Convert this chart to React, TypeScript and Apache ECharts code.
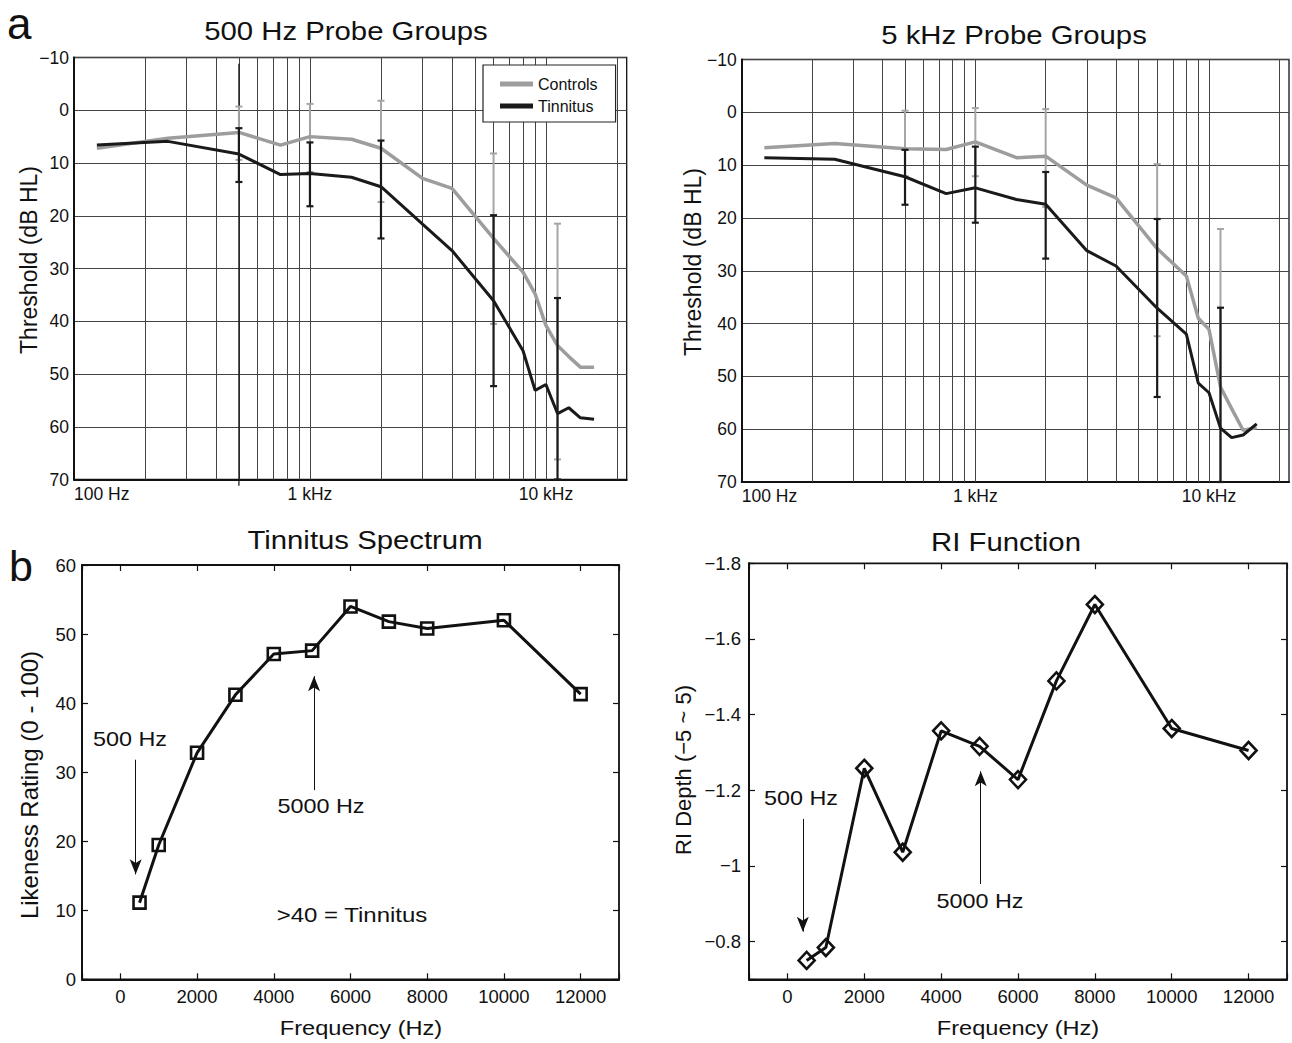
import React, { useEffect, useRef } from 'react';
import * as echarts from 'echarts';

const FONT = "'Liberation Sans', Arial, Helvetica, sans-serif";

// ---------- Panel a : audiograms ----------
const AUDIO_FREQS = [125, 250, 500, 750, 1000, 1500, 2000, 3000, 4000, 6000, 8000, 9000, 10000, 11200, 12500, 14000, 16000];
const P500_CONTROLS = [7.2, 5.3, 4.2, 6.6, 5.0, 5.5, 7.2, 12.9, 14.8, 24.3, 30.7, 34.8, 40.8, 44.6, 46.7, 48.7, 48.7];
const P500_TINNITUS = [6.6, 5.9, 8.3, 12.2, 12.0, 12.7, 14.5, 21.6, 26.6, 36.1, 45.6, 53.1, 52.0, 57.5, 56.4, 58.3, 58.6];
const P5K_CONTROLS = [6.7, 5.9, 6.9, 7.05, 5.6, 8.6, 8.3, 13.8, 16.2, 25.8, 31.0, 39.0, 41.1, 52.0, 56.1, 60.2, 59.7];
const P5K_TINNITUS = [8.6, 8.9, 12.2, 15.4, 14.3, 16.5, 17.4, 26.2, 29.1, 37.1, 42.0, 51.3, 53.1, 59.8, 61.6, 61.1, 59.0];

const ERR_FREQS = [500, 1000, 2000, 6000, 11200];
const P500_CONTROLS_LO = [-0.7, -1.2, -1.8, 8.2, 21.5];
const P500_CONTROLS_HI = [9.4, 11.7, 17.4, 40.5, 66.2];
const P500_TINNITUS_LO = [3.4, 6.1, 5.75, 19.9, 35.6];
const P500_TINNITUS_HI = [13.6, 18.2, 24.3, 52.3, 70];
const P5K_CONTROLS_LO = [-0.3, -0.8, -0.6, 9.8, 22.1];
const P5K_CONTROLS_HI = [12.1, 12.1, 17.9, 42.4, 70];
const P5K_TINNITUS_LO = [7.1, 6.5, 11.3, 20.2, 37.0];
const P5K_TINNITUS_HI = [17.5, 20.9, 27.7, 53.9, 70];

const GRID_FREQS = [200, 300, 400, 500, 600, 700, 800, 900, 1000, 2000, 3000, 4000, 5000, 6000, 7000, 8000, 9000, 10000, 20000];
const PROBE_MARK = [500, -8.8, 71.2];
const LOG_TICK_LABELS: Record<number, string> = { 100: '100 Hz', 1000: '1 kHz', 10000: '10 kHz' };

// ---------- Panel b ----------
const SPEC_FREQS = [500, 1000, 2000, 3000, 4000, 5000, 6000, 7000, 8000, 10000, 12000];
const LIKENESS = [11.1, 19.45, 32.8, 41.2, 47.1, 47.6, 54.0, 51.8, 50.8, 52.0, 41.3];
const RI_DEPTH = [-0.75, -0.784, -1.258, -1.036, -1.357, -1.316, -1.228, -1.489, -1.691, -1.363, -1.305];
const SPEC_ARROWS = [[400, 31.8, 15.2], [5050, 27.4, 43.9]]; // x, tail, head
const RI_ARROWS = [[400, -1.124, -0.826], [5030, -0.952, -1.25]];

const GRAY = '#9d9d9d';
const DARK = '#1a1a1a';
const MINUS = '\u2212';

const zip = (xs: number[], ys: number[]) => xs.map((x, i) => [x, ys[i]]);
const errData = (lo: number[], hi: number[]) => ERR_FREQS.map((f, i) => [f, lo[i], hi[i]]);

const vRender = (color: string, width: number, cap: number) => (params: any, api: any) => {
  const x = api.value(0);
  const a = api.coord([x, api.value(1)]);
  const b = api.coord([x, api.value(2)]);
  const style = { stroke: color, lineWidth: width };
  const children: any[] = [{ type: 'line', shape: { x1: a[0], y1: a[1], x2: b[0], y2: b[1] }, style }];
  if (cap > 0) {
    children.push({ type: 'line', shape: { x1: a[0] - cap, y1: a[1], x2: a[0] + cap, y2: a[1] }, style });
    children.push({ type: 'line', shape: { x1: b[0] - cap, y1: b[1], x2: b[0] + cap, y2: b[1] }, style });
  }
  return { type: 'group', children };
};

const logX = (g: number) => ({
  type: 'log', logBase: 10, gridIndex: g, min: 100, max: 22000,
  axisLine: { show: true, onZero: false, lineStyle: { color: '#111', width: 2 } },
  axisTick: { show: false },
  splitLine: { show: false },
  axisLabel: {
    fontSize: 17.5, color: '#111', fontFamily: FONT, margin: 5, alignMinLabel: 'left',
    formatter: (v: number) => LOG_TICK_LABELS[Math.round(v)] || '',
  },
});

const dbY = (g: number) => ({
  type: 'value', gridIndex: g, inverse: true, min: -10, max: 70, interval: 10,
  axisLine: { show: true, onZero: false, lineStyle: { color: '#111', width: 2 } },
  axisTick: { show: false },
  splitLine: { show: true, lineStyle: { color: '#444', width: 1 } },
  axisLabel: {
    fontSize: 17.5, color: '#111', fontFamily: FONT, margin: 5,
    formatter: (v: number) => (v < 0 ? MINUS + Math.abs(v) : String(v)),
  },
});

const linX = (g: number, pos: string) => ({
  type: 'value', gridIndex: g, position: pos, min: -1000, max: 13000,
  minInterval: 2000, maxInterval: 2000, splitNumber: 7,
  axisLine: { show: pos === 'bottom', onZero: false, lineStyle: { color: '#111', width: 2 } },
  axisTick: { show: true, inside: true, length: 6, lineStyle: { color: '#111', width: 1.2 } },
  splitLine: { show: false },
  axisLabel: {
    show: pos === 'bottom', fontSize: 18.5, color: '#111', fontFamily: FONT, margin: 8,
    formatter: (v: number) => (v < 0 || v > 12000 ? '' : String(v)),
  },
});

const likeY = (g: number, pos: string) => ({
  type: 'value', gridIndex: g, position: pos, min: 0, max: 60, interval: 10,
  axisLine: { show: pos === 'left', onZero: false, lineStyle: { color: '#111', width: 2 } },
  axisTick: { show: true, inside: true, length: 6, lineStyle: { color: '#111', width: 1.2 } },
  splitLine: { show: false },
  axisLabel: { show: pos === 'left', fontSize: 18.5, color: '#111', fontFamily: FONT, margin: 6 },
});

const riY = (g: number, pos: string) => ({
  type: 'value', gridIndex: g, position: pos, inverse: true, min: -1.8, max: -0.7, interval: 0.2,
  axisLine: { show: pos === 'left', onZero: false, lineStyle: { color: '#111', width: 2 } },
  axisTick: { show: true, inside: true, length: 6, lineStyle: { color: '#111', width: 1.2 } },
  splitLine: { show: false },
  axisLabel: {
    show: pos === 'left', fontSize: 18.5, color: '#111', fontFamily: FONT, margin: 8,
    formatter: (v: number) => (v > -0.75 ? '' : String(Math.round(v * 10) / 10).replace('-', MINUS)),
  },
});

const gridMarkLine = {
  silent: true, z: 1, symbol: ['none', 'none'], label: { show: false },
  emphasis: { disabled: true },
  lineStyle: { color: '#444', width: 1, type: 'solid' },
  data: GRID_FREQS.map((f) => ({ xAxis: f })),
};

const audioSeries = (g: number, ctrl: number[], tin: number[], cLo: number[], cHi: number[], tLo: number[], tHi: number[]) => [
  {
    name: 'Controls', type: 'line', xAxisIndex: g, yAxisIndex: g, data: zip(AUDIO_FREQS, ctrl),
    symbol: 'none', silent: true, z: 2, lineStyle: { color: GRAY, width: 3.5 }, itemStyle: { color: GRAY },
    markLine: gridMarkLine,
  },
  {
    name: 'ctrlErr' + g, type: 'custom', xAxisIndex: g, yAxisIndex: g, silent: true, z: 2,
    data: errData(cLo, cHi), encode: { x: 0, y: [1, 2] }, renderItem: vRender('#a5a5a5', 2, 3.5),
  },
  {
    name: 'Tinnitus', type: 'line', xAxisIndex: g, yAxisIndex: g, data: zip(AUDIO_FREQS, tin),
    symbol: 'none', silent: true, z: 3, lineStyle: { color: DARK, width: 3 }, itemStyle: { color: DARK },
  },
  {
    name: 'tinErr' + g, type: 'custom', xAxisIndex: g, yAxisIndex: g, silent: true, z: 3,
    data: errData(tLo, tHi), encode: { x: 0, y: [1, 2] }, renderItem: vRender(DARK, 2.2, 3.5),
  },
];

const arrowLine = (arrows: number[][]) => ({
  silent: true, z: 5, symbol: ['none', 'arrow'], label: { show: false },
  emphasis: { disabled: true },
  lineStyle: { color: '#111', width: 1, type: 'solid' },
  data: arrows.map(([x, a, b]) => [{ coord: [x, a], symbolSize: 0 }, { coord: [x, b], symbolSize: [9, 15] }]),
});

const T = (text: string, x: number, y: number, size: number, opts: any = {}) => ({
  type: 'text', x, y, scaleX: opts.sx ?? 1, rotation: opts.rot ?? 0, silent: true, z: 10,
  style: { text, fontSize: size, fontFamily: FONT, fill: '#111', align: opts.align ?? 'center', verticalAlign: 'middle' },
});

const ROT = Math.PI / 2;

export default function App() {
  const ref = useRef<HTMLDivElement>(null);
  useEffect(() => {
    if (!ref.current) return;
    const chart = echarts.init(ref.current, undefined, { renderer: 'svg' });
    const gridBase = { show: true, borderColor: '#111', backgroundColor: 'transparent', containLabel: false };
    const option: any = {
      animation: false,
      backgroundColor: '#fff',
      textStyle: { fontFamily: FONT },
      grid: [
        { ...gridBase, left: 74, top: 57.5, width: 552.7, height: 422, borderWidth: 1.3 },
        { ...gridBase, left: 741.7, top: 59.5, width: 551.3, height: 422.5, borderWidth: 1.3 },
        { ...gridBase, left: 82, top: 565, width: 537, height: 414.3, borderWidth: 1.8 },
        { ...gridBase, left: 749, top: 563.3, width: 538, height: 416, borderWidth: 1.8 },
      ],
      xAxis: [logX(0), logX(1), linX(2, 'bottom'), linX(3, 'bottom'), linX(2, 'top'), linX(3, 'top')],
      yAxis: [dbY(0), dbY(1), likeY(2, 'left'), riY(3, 'left'), likeY(2, 'right'), riY(3, 'right')],
      legend: {
        orient: 'vertical', left: 483, top: 65, padding: [11, 18, 8, 17], itemGap: 6,
        itemWidth: 33, itemHeight: 5, icon: 'rect', borderColor: '#222', borderWidth: 1.2,
        backgroundColor: '#fff', selectedMode: false,
        textStyle: { fontSize: 16, fontFamily: FONT, color: '#111' },
        data: [
          { name: 'Controls', icon: 'rect', itemStyle: { color: GRAY } },
          { name: 'Tinnitus', icon: 'rect', itemStyle: { color: DARK } },
        ],
      },
      series: [
        ...audioSeries(0, P500_CONTROLS, P500_TINNITUS, P500_CONTROLS_LO, P500_CONTROLS_HI, P500_TINNITUS_LO, P500_TINNITUS_HI),
        {
          name: 'probe', type: 'custom', xAxisIndex: 0, yAxisIndex: 0, silent: true, z: 1, clip: false,
          data: [PROBE_MARK], encode: { x: 0, y: [1, 2] }, renderItem: vRender('#111', 1.2, 0),
        },
        ...audioSeries(1, P5K_CONTROLS, P5K_TINNITUS, P5K_CONTROLS_LO, P5K_CONTROLS_HI, P5K_TINNITUS_LO, P5K_TINNITUS_HI),
        {
          name: 'spectrum', type: 'line', xAxisIndex: 2, yAxisIndex: 2, data: zip(SPEC_FREQS, LIKENESS),
          symbol: 'rect', symbolSize: 12, showAllSymbol: true, silent: true, z: 3,
          lineStyle: { color: '#111', width: 3 },
          itemStyle: { color: 'rgba(0,0,0,0)', borderColor: '#111', borderWidth: 2.6 },
          markLine: arrowLine(SPEC_ARROWS),
        },
        {
          name: 'ri', type: 'line', xAxisIndex: 3, yAxisIndex: 3, data: zip(SPEC_FREQS, RI_DEPTH),
          symbol: 'diamond', symbolSize: [16, 17], showAllSymbol: true, silent: true, z: 3,
          lineStyle: { color: '#111', width: 3 },
          itemStyle: { color: 'rgba(0,0,0,0)', borderColor: '#111', borderWidth: 2.6 },
          markLine: arrowLine(RI_ARROWS),
        },
      ],
      graphic: [
        T('a', 7, 23, 44, { align: 'left' }),
        T('b', 9, 566, 43, { align: 'left' }),
        T('500 Hz Probe Groups', 346, 31, 25.5, { sx: 1.15 }),
        T('5 kHz Probe Groups', 1014, 35.5, 25.5, { sx: 1.15 }),
        T('Tinnitus Spectrum', 365, 540, 25.5, { sx: 1.15 }),
        T('RI Function', 1006, 542, 25.5, { sx: 1.15 }),
        T('Threshold (dB HL)', 29, 260, 23, { rot: ROT }),
        T('Threshold (dB HL)', 693, 262, 23, { rot: ROT }),
        T('Likeness Rating (0 - 100)', 29, 785, 24, { rot: ROT }),
        T('RI Depth (' + MINUS + '5 ~ 5)', 683, 770, 22, { rot: ROT }),
        T('Frequency (Hz)', 361, 1028, 20.5, { sx: 1.15 }),
        T('Frequency (Hz)', 1018, 1028, 20.5, { sx: 1.15 }),
        T('500 Hz', 130, 739, 20, { sx: 1.17 }),
        T('5000 Hz', 321, 806, 20, { sx: 1.17 }),
        T('>40 = Tinnitus', 352, 915.5, 20.5, { sx: 1.17 }),
        T('500 Hz', 801, 798, 20, { sx: 1.17 }),
        T('5000 Hz', 980, 901, 20, { sx: 1.17 }),
      ],
    };
    chart.setOption(option);
    return () => chart.dispose();
  }, []);
  return (
    <div
      ref={ref}
      style={{ position: 'fixed', left: 0, top: 0, width: 1292, height: 1043, background: '#fff' }}
    />
  );
}
